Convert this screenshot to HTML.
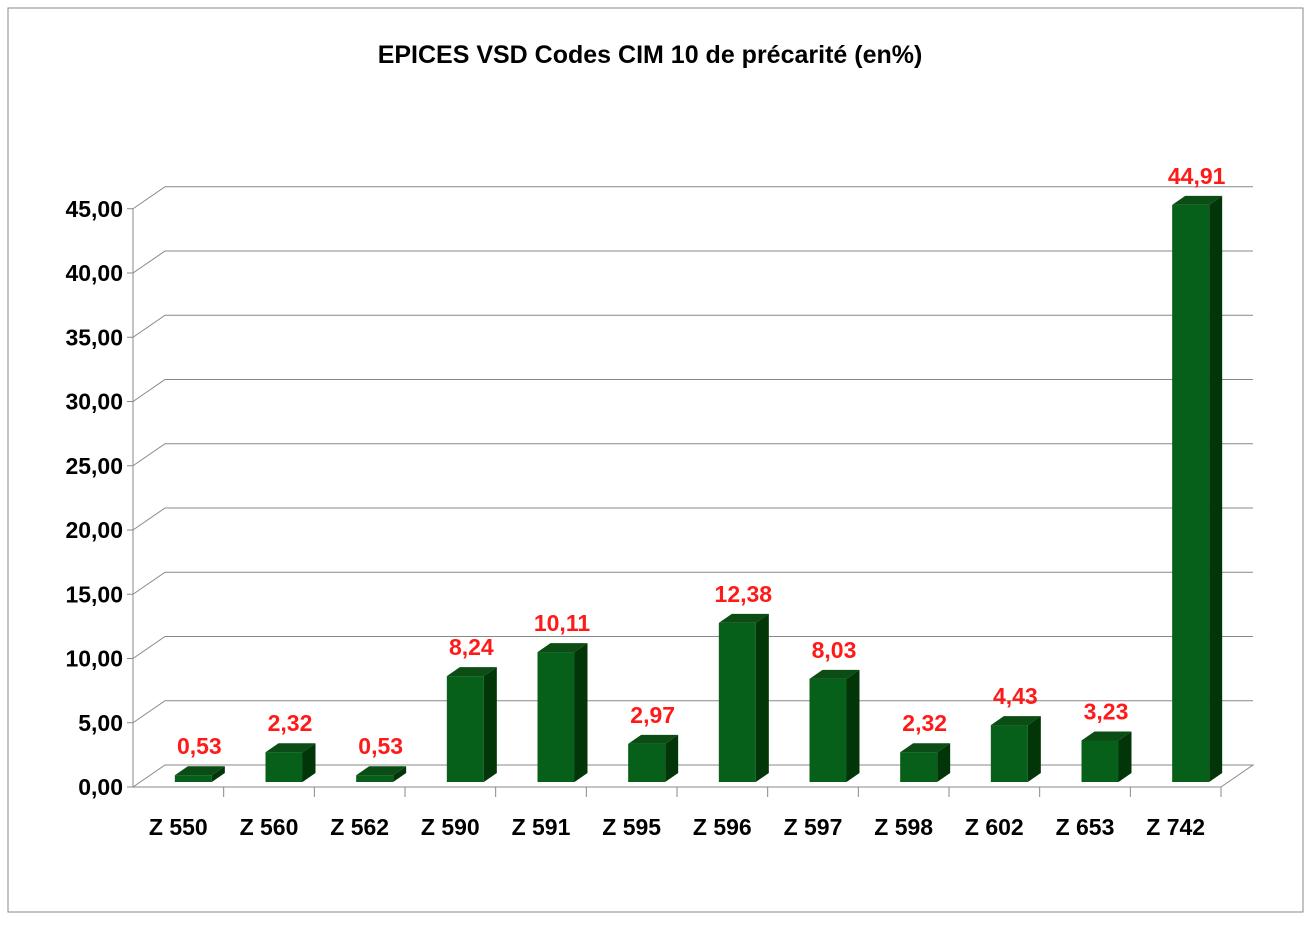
<!DOCTYPE html>
<html><head><meta charset="utf-8"><style>
body{margin:0;background:#fff}
svg text{font-family:"Liberation Sans",sans-serif;font-weight:bold}
</style></head><body>
<svg width="1312" height="921">
<rect x="8" y="8" width="1295" height="904" fill="#fff" stroke="#888"/>
<text x="650" y="63" text-anchor="middle" font-size="25">EPICES VSD Codes CIM 10 de précarité (en%)</text>
<g id="grid"></g>
<g id="axes"></g>
<g id="bars"></g>
</svg>
<script>
const categories=["Z 550","Z 560","Z 562","Z 590","Z 591","Z 595","Z 596","Z 597","Z 598","Z 602","Z 653","Z 742"];
const values=[0.53,2.32,0.53,8.24,10.11,2.97,12.38,8.03,2.32,4.43,3.23,44.91];
const labels=["0,53","2,32","0,53","8,24","10,11","2,97","12,38","8,03","2,32","4,43","3,23","44,91"];
const ticks=[0,5,10,15,20,25,30,35,40,45];
const tickLabels=["0,00","5,00","10,00","15,00","20,00","25,00","30,00","35,00","40,00","45,00"];
const NS="http://www.w3.org/2000/svg";
const X0=133,X1=1221,Y0=787,DX=32,DY=-22,PU=12.85;
const cw=(X1-X0)/categories.length;
function y(v){return Y0-v*PU;}
function mk(t,a,p){const e=document.createElementNS(NS,t);for(const k in a)e.setAttribute(k,a[k]);p.appendChild(e);return e;}
const grid=document.getElementById('grid'),axes=document.getElementById('axes'),bars=document.getElementById('bars');
ticks.forEach((t,i)=>{
 const yy=y(t);
 const g=mk('polyline',{points:`${X0},${yy} ${X0+DX},${yy+DY} ${X1+DX},${yy+DY}`+(t===0?` ${X1},${yy}`:''),fill:'none',stroke:'#888','stroke-width':1},grid);
 
 
 mk('line',{x1:X0-6,y1:yy,x2:X0,y2:yy,stroke:'#888'},axes);
 const tx=mk('text',{x:X0-10,y:yy+8,'text-anchor':'end','font-size':23},axes);
 tx.textContent=tickLabels[i];
 
 
});
mk('line',{x1:X0,y1:y(45),x2:X0,y2:Y0,stroke:'#888'},axes);
mk('line',{x1:X0,y1:Y0,x2:X1,y2:Y0,stroke:'#888'},axes);
const bw=37,bdx=13,bdy=-9,off=10,offy=-5;
categories.forEach((c,i)=>{
 const tx0=X0+cw*i;
 mk('line',{x1:tx0+cw,y1:Y0,x2:tx0+cw,y2:Y0+10,stroke:'#888'},axes);
 const t=mk('text',{x:tx0+cw/2,y:Y0+48,'text-anchor':'middle','font-size':23},axes);
 t.textContent=c;
 
 
 const cx=tx0+cw/2+off+5,l=cx-bw/2,r=cx+bw/2,b=Y0+offy,top=b-values[i]*PU;
 const g=mk('g',{},bars);
 
 
 mk('rect',{x:l,y:top,width:bw,height:b-top,fill:'#07601a'},g);
 mk('polygon',{points:`${l},${top} ${l+bdx},${top+bdy} ${r+bdx},${top+bdy} ${r},${top}`,fill:'#0b4d14'},g);
 mk('polygon',{points:`${r},${top} ${r+bdx},${top+bdy} ${r+bdx},${b+bdy} ${r},${b}`,fill:'#023609'},g);
 const lb=mk('text',{x:cx+6,y:top+bdy-12,'text-anchor':'middle','font-size':23,fill:'#ff1a1a'},g);
 lb.textContent=labels[i];
 
 
});
</script>
</body></html>
